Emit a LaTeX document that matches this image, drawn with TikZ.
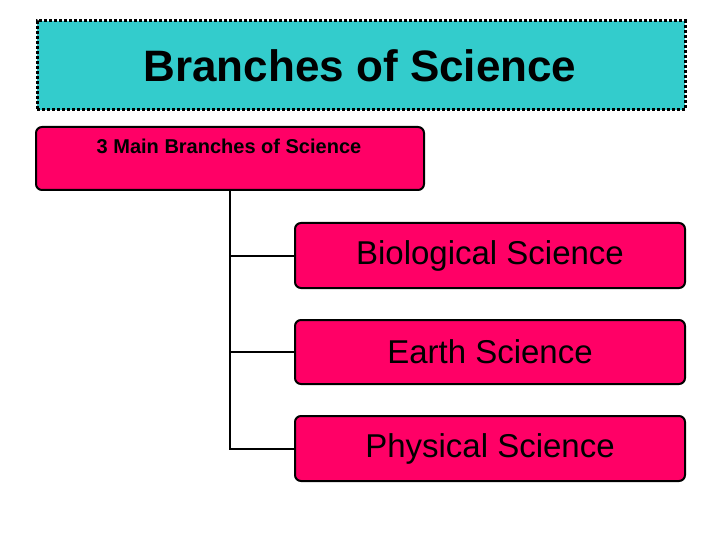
\documentclass[tikz,border=0pt]{standalone}
\usepackage{fontspec}
\setmainfont{Liberation Sans}
\begin{document}
\begin{tikzpicture}[x=1pt,y=-1pt,
  pinkbox/.style={draw=black,line width=2pt,fill={rgb,255:red,255;green,0;blue,102},rounded corners=6pt,inner sep=0pt},
  conn/.style={line width=2pt}]
\useasboundingbox (0,0) rectangle (720,540);
\node[draw=black,line width=3pt,dotted,fill={rgb,255:red,51;green,204;blue,204},minimum width=648pt,minimum height=89pt,inner sep=0pt] (title) at (361,65.5) {};
\node[font=\bfseries\fontsize{44}{48}\selectfont] (tt) at (360,66) {Branches of Science};
\node[pinkbox,minimum width=388pt,minimum height=63pt] (main) at (230,158.5) {};
\node[font=\bfseries\fontsize{20}{24}\selectfont] (mt) at (229,146) {3 Main Branches of Science};
\node[pinkbox,minimum width=390pt,minimum height=65pt,font=\fontsize{33}{38}\selectfont] (b1) at (490,255.5) {Biological Science};
\node[pinkbox,minimum width=390pt,minimum height=64pt,font=\fontsize{33}{38}\selectfont] (b2) at (490,352) {Earth Science};
\node[pinkbox,minimum width=390pt,minimum height=65pt,font=\fontsize{33}{38}\selectfont] (b3) at (490,448.5) {Physical Science};
\coordinate (top) at (230,190);
\draw[conn] (top) |- (b3.west);
\draw[conn] (b1.west) -- (b1.west -| top);
\draw[conn] (b2.west) -- (b2.west -| top);
\end{tikzpicture}
\end{document}
